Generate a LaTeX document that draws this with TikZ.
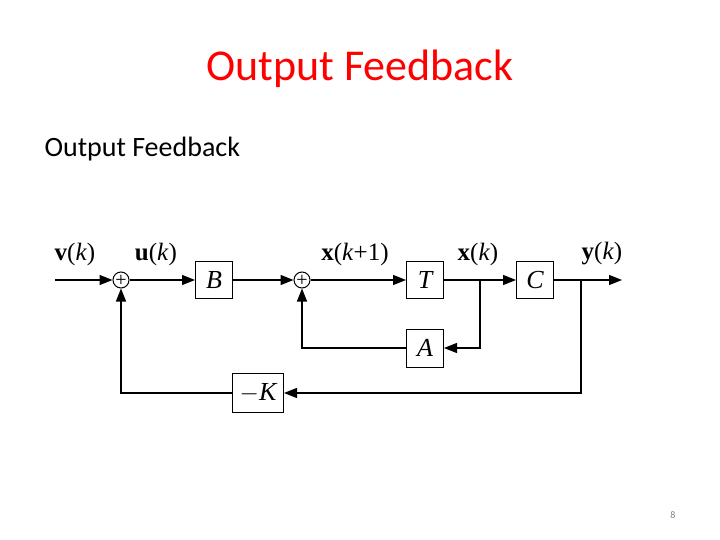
\documentclass[tikz,border=0pt]{standalone}
\usepackage{fontspec}
\setmainfont{Carlito}
\newfontfamily\tms{Liberation Serif}
\usetikzlibrary{arrows.meta}
\begin{document}
\begin{tikzpicture}[x=1pt,y=-1pt,
  blk/.style={draw,line width=1pt,minimum width=37pt,minimum height=37pt,inner sep=0pt,font=\tms\fontsize{26}{26}\selectfont\itshape},
  sumnode/.style={draw,circle,line width=1pt,minimum size=16pt,inner sep=0pt},
  plus/.style={font=\tms\fontsize{20}{20}\selectfont},
  conn/.style={line width=1.4pt,-{Triangle[length=13pt,width=10pt]}},
  lbl/.style={font=\tms\fontsize{25}{25}\selectfont}]
\useasboundingbox (0,0) rectangle (720,540);
\node[text=red,font=\fontsize{44}{44}\selectfont] (title) at (360,69) {Output Feedback};
\node[anchor=west,font=\fontsize{28}{28}\selectfont] (sub) at (41,149) {Output Feedback};
\node[text=gray,font=\fontsize{10}{10}\selectfont] (pg) at (673,515) {8};
% blocks
\node[sumnode] (s1) at (121,280) {};
\node[plus] (p1) at (121,280.5) {+};
\node[blk] (B) at (214,280) {B};
\node[sumnode] (s2) at (302,280) {};
\node[plus] (p2) at (302,280.5) {+};
\node[blk] (T) at (425,280) {T};
\node[blk] (C) at (535,280) {C};
\node[blk,minimum height=38pt] (A) at (425,348) {A};
\node[blk,minimum width=51pt,minimum height=39pt] (K) at (258,393) {$-$K};
\coordinate (in) at (55,280);
\coordinate (out) at (622,280);
\coordinate (bx) at (480,280);
\coordinate (by) at (581,280);
% labels
\node[lbl] (lv) at (75,254) {\textbf{v}(\textit{k})};
\node[lbl] (lu) at (156,254) {\textbf{u}(\textit{k})};
\node[lbl] (lx1) at (355,254) {\textbf{x}(\textit{k}+1)};
\node[lbl] (lx) at (478,254) {\textbf{x}(\textit{k})};
\node[lbl] (ly) at (602,254) {\textbf{y}(\textit{k})};
% connectors
\draw[conn] (in) -- (s1);
\draw[conn] (s1) -- (B);
\draw[conn] (B) -- (s2);
\draw[conn] (s2) -- (T);
\draw[conn] (T) -- (C);
\draw[conn] (C) -- (out);
\draw[conn] (bx) |- (A);
\draw[conn] (A) -| (s2);
\draw[conn] (by) |- (K);
\draw[conn] (K) -| (s1);
\end{tikzpicture}
\end{document}
